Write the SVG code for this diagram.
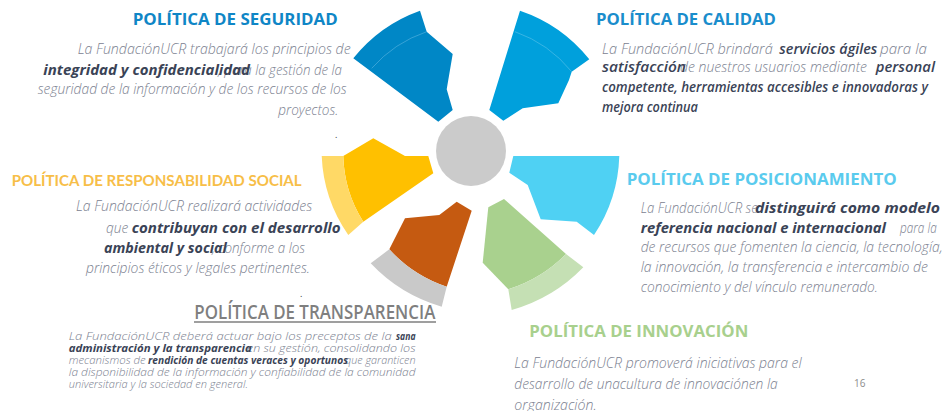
<svg xmlns="http://www.w3.org/2000/svg" width="943" height="411" viewBox="0 0 943 411">
<style>
.t{font-family:"Open Sans","Noto Sans",sans-serif;font-weight:700;font-size:16.5px}
.n{font-family:"Open Sans","Noto Sans",sans-serif;font-style:italic;font-weight:300;font-size:14px;fill:#7b8190}
.b{font-family:"Open Sans","Noto Sans",sans-serif;font-style:italic;font-weight:700;font-size:14px;fill:#3a4356}
.m{font-weight:600;font-size:14.5px}
.s{font-size:11px}
.dot{font-family:"Open Sans",sans-serif;font-size:9px;fill:#333}
</style>
<rect width="943" height="411" fill="#ffffff"/>
<g id="connectors"/>
<g id="centro">
<circle cx="471" cy="151" r="35" fill="#cbcbcb"/>
</g>
<g id="seguridad">
<path d="M353.3,58.3 A150,150 0 0 1 420,10.7 L426.7,31.7 L452.7,54 L446.7,89.3 L452.7,110 L438.3,121.7 Z" fill="#0087c6"/>
<path d="M371.7,68.3 A128,128 0 0 1 426.7,31.7" fill="none" stroke="#5cb6e0" stroke-width="0.6"/>
<text class="t" x="132.7" y="25" fill="#0f86c6" textLength="205" lengthAdjust="spacingAndGlyphs">POLÍTICA DE SEGURIDAD</text>
<text class="n" x="77.7" y="54" textLength="273" lengthAdjust="spacingAndGlyphs">La FundaciónUCR trabajará los principios de</text>
<text class="n" x="218" y="75" textLength="124" lengthAdjust="spacingAndGlyphs">, para la gestión de la</text>
<text class="b" x="43.3" y="75" textLength="206.7" lengthAdjust="spacingAndGlyphs">integridad y confidencialidad</text>
<text class="n" x="37.7" y="94" textLength="309" lengthAdjust="spacingAndGlyphs">seguridad de la información y de los recursos de los</text>
<text class="n" x="278.3" y="115" textLength="60" lengthAdjust="spacingAndGlyphs">proyectos.</text>
<text class="dot" x="335" y="138">.</text>
</g>
<g id="calidad">
<path d="M520,10.7 A150,150 0 0 1 589.3,59.3 L571.7,71.7 L569,80 L558.3,103.3 L522.7,108.3 L503.3,120.7 L489.3,110 Z" fill="#00a0dc"/>
<path d="M515,31.7 A128,128 0 0 1 571.7,71.7" fill="none" stroke="#5cc3ea" stroke-width="0.6"/>
<text class="t" x="596" y="25" fill="#1a8dcc" textLength="180" lengthAdjust="spacingAndGlyphs">POLÍTICA DE CALIDAD</text>
<text class="n" x="602" y="54" textLength="170.7" lengthAdjust="spacingAndGlyphs">La  FundaciónUCR brindará</text>
<text class="b m" x="779.3" y="54" textLength="98" lengthAdjust="spacingAndGlyphs">servicios ágiles</text>
<text class="n" x="880" y="54" textLength="47" lengthAdjust="spacingAndGlyphs">para  la</text>
<text class="n" x="680" y="72" textLength="187" lengthAdjust="spacingAndGlyphs">de  nuestros usuarios mediante</text>
<text class="b m" x="602" y="72" textLength="84" lengthAdjust="spacingAndGlyphs">satisfacción</text>
<text class="b m" x="875.7" y="72" textLength="59.3" lengthAdjust="spacingAndGlyphs">personal</text>
<text class="b m" x="602" y="92" textLength="326" lengthAdjust="spacingAndGlyphs">competente, herramientas accesibles e innovadoras y</text>
<text class="b m" x="602" y="112" textLength="96" lengthAdjust="spacingAndGlyphs">mejora continua</text>
</g>
<g id="posicionamiento">
<path d="M513.3,156 L619.3,156 A150,150 0 0 1 594,235 L576.7,221.7 L540.7,219.3 L527.7,185 L509.3,172.7 Z" fill="#4fd1f3"/>
<text class="t" x="626.7" y="185" fill="#5acbee" textLength="270" lengthAdjust="spacingAndGlyphs">POLÍTICA DE POSICIONAMIENTO</text>
<text class="n" x="640.7" y="213" textLength="117" lengthAdjust="spacingAndGlyphs">La FundaciónUCR se</text>
<text class="b" x="755" y="213" textLength="185" lengthAdjust="spacingAndGlyphs">distinguirá como modelo</text>
<text class="b" x="640.7" y="233" textLength="245.3" lengthAdjust="spacingAndGlyphs">referencia nacional e internacional</text>
<text class="n" x="900" y="233" textLength="36.7" lengthAdjust="spacingAndGlyphs">para la</text>
<text class="n" x="640.7" y="252" textLength="302" lengthAdjust="spacingAndGlyphs">de recursos que fomenten la ciencia, la tecnología,</text>
<text class="n" x="640.7" y="272" textLength="287.3" lengthAdjust="spacingAndGlyphs">la innovación, la transferencia e intercambio de</text>
<text class="n" x="640.7" y="292" textLength="237.3" lengthAdjust="spacingAndGlyphs">conocimiento y del vínculo remunerado.</text>
</g>
<g id="innovacion">
<path d="M504,199 L566,254 A140,140 0 0 1 508.3,289.3 L482.7,262.7 L488.3,207.3 Z" fill="#a9d18e"/>
<path d="M566,254 L583.3,267.3 A160,160 0 0 1 511.7,310 L508.3,289.3 A140,140 0 0 0 566,254 Z" fill="#c5e0b4"/>
<text class="t" x="529.3" y="337" fill="#a8d08d" textLength="219" lengthAdjust="spacingAndGlyphs">POLÍTICA DE INNOVACIÓN</text>
<text class="n" x="514.3" y="368" textLength="287.4" lengthAdjust="spacingAndGlyphs">La FundaciónUCR promoverá iniciativas para el</text>
<text class="n" x="514.3" y="389" textLength="263.4" lengthAdjust="spacingAndGlyphs">desarrollo de unacultura de innovaciónen la</text>
<text class="n" x="514.3" y="410" textLength="82.4" lengthAdjust="spacingAndGlyphs">organización.</text>
<text x="854" y="387" font-family="'Open Sans',sans-serif" font-size="10" fill="#8c8c8c">16</text>
</g>
<g id="transparencia">
<path d="M456.7,201.7 L471.7,210.7 L446.7,286.7 A135,135 0 0 1 389.3,249.3 L405,218.3 L439.3,215 Z" fill="#c55a11"/>
<path d="M446.7,286.7 L441.7,306.7 A158,158 0 0 1 370.7,263.3 L389.3,249.3 A135,135 0 0 0 446.7,286.7 Z" fill="#c9c9c9"/>
<text class="t" x="194.3" y="318.5" fill="#7f7f7f" textLength="241" lengthAdjust="spacingAndGlyphs" style="font-size:19.5px;font-weight:600">POLÍTICA DE TRANSPARENCIA</text>
<line x1="194" y1="322" x2="436" y2="322" stroke="#7f7f7f" stroke-width="1.3"/>
<text class="dot" x="300" y="297">.</text>
<text class="n s" x="68.7" y="340" textLength="323" lengthAdjust="spacingAndGlyphs">La FundaciónUCR deberá actuar bajo los preceptos de la</text>
<text class="b s" x="396" y="340" textLength="19.5" lengthAdjust="spacingAndGlyphs">sana</text>
<text class="n s" x="247" y="352" textLength="168.5" lengthAdjust="spacingAndGlyphs">en su gestión, consolidando los</text>
<text class="b s" x="68.7" y="352" textLength="183" lengthAdjust="spacingAndGlyphs">administración y la transparencia</text>
<text class="n s" x="68.7" y="364" textLength="77" lengthAdjust="spacingAndGlyphs">mecanismos de</text>
<text class="n s" x="345" y="364" textLength="70.5" lengthAdjust="spacingAndGlyphs">que garanticen</text>
<text class="b s" x="148" y="364" textLength="200" lengthAdjust="spacingAndGlyphs">rendición de cuentas veraces y oportunos</text>
<text class="n s" x="68.7" y="376" textLength="346.8" lengthAdjust="spacingAndGlyphs">la disponibilidad de la información y confiabilidad de la comunidad</text>
<text class="n s" x="68.7" y="388" textLength="179.3" lengthAdjust="spacingAndGlyphs">universitaria y la sociedad en general.</text>
</g>
<g id="responsabilidad">
<path d="M373.3,138.3 L405,156 L428.3,156 L433.3,173.3 L363.3,221.7 A128,128 0 0 1 343.3,156 Z" fill="#ffc000"/>
<path d="M343.3,156 L321.7,156 A149,149 0 0 0 348.3,235 L363.3,221.7 A128,128 0 0 1 343.3,156 Z" fill="#ffd966"/>
<text x="11.7" y="185.5" font-family="Lato,'Open Sans',sans-serif" font-weight="700" font-size="15" fill="#f7be48" textLength="290" lengthAdjust="spacingAndGlyphs">POLÍTICA DE RESPONSABILIDAD SOCIAL</text>
<text class="n" x="76" y="211" textLength="236.3" lengthAdjust="spacingAndGlyphs">La FundaciónUCR realizará actividades</text>
<text class="n" x="106" y="233" textLength="22.3" lengthAdjust="spacingAndGlyphs">que</text>
<text class="b" x="131.7" y="233" textLength="209" lengthAdjust="spacingAndGlyphs">contribuyan con el desarrollo</text>
<text class="n" x="212" y="253" textLength="93" lengthAdjust="spacingAndGlyphs">, conforme a los</text>
<text class="b" x="104" y="253" textLength="122.7" lengthAdjust="spacingAndGlyphs">ambiental y social</text>
<text class="n" x="86" y="273" textLength="224" lengthAdjust="spacingAndGlyphs">principios éticos y legales pertinentes.</text>
</g>
</svg>
